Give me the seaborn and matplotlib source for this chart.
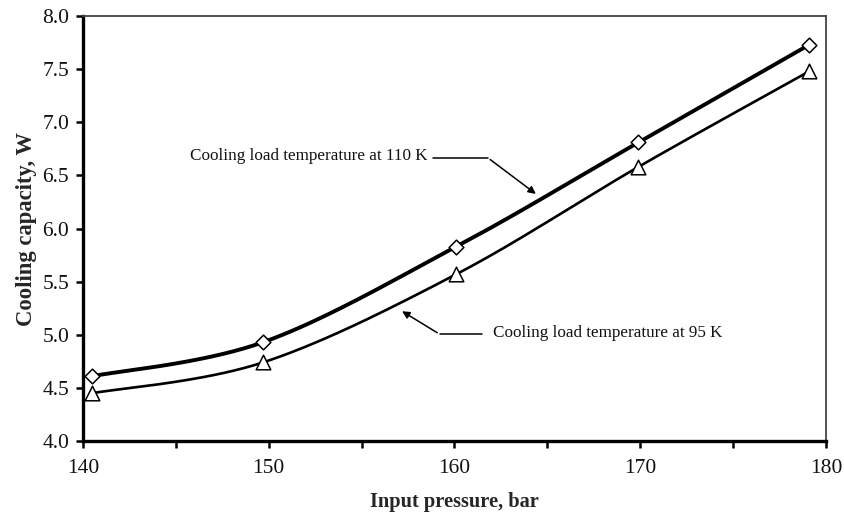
import numpy as np
import pandas as pd
import matplotlib
matplotlib.use("Agg")
import matplotlib.pyplot as plt
import seaborn as sns
from matplotlib.ticker import MultipleLocator

# Data
pressure_110 = [140.5, 149.7, 160.1, 169.9, 179.1]
capacity_110 = [4.61, 4.93, 5.83, 6.81, 7.73]
pressure_95 = [140.5, 149.7, 160.1, 169.9, 179.1]
capacity_95 = [4.45, 4.74, 5.57, 6.58, 7.48]
label_110 = "Cooling load temperature at 110 K"
label_95 = "Cooling load temperature at 95 K"
x_label = "Input pressure, bar"
y_label = "Cooling capacity, W"


def smooth(xs, ys, n=40):
    """Excel-like smoothed line: Catmull-Rom Bezier through the points."""
    P = np.column_stack([xs, ys]).astype(float)
    out = []
    for i in range(len(P) - 1):
        p0 = P[i - 1] if i > 0 else P[i]
        p1, p2 = P[i], P[i + 1]
        p3 = P[i + 2] if i + 2 < len(P) else P[i + 1]
        c1 = p1 + (p2 - p0) / 6.0
        c2 = p2 - (p3 - p1) / 6.0
        t = np.linspace(0, 1, n)[:, None]
        seg = ((1 - t) ** 3) * p1 + 3 * ((1 - t) ** 2) * t * c1 + 3 * (1 - t) * t ** 2 * c2 + t ** 3 * p2
        out.append(seg if i == 0 else seg[1:])
    s = np.vstack(out)
    return s[:, 0], s[:, 1]


sns.set_theme(style="white")
plt.rcParams["font.family"] = ["Liberation Serif", "DejaVu Serif"]

fig = plt.figure(figsize=(8.44, 5.15), dpi=100)
ax = fig.add_axes([0.0983, 0.1437, 0.8804, 0.8252])

for xs, ys, lw, marker, ms in [
    (pressure_110, capacity_110, 2.8, "D", 7.5),
    (pressure_95, capacity_95, 1.9, "^", 10.5),
]:
    sx, sy = smooth(xs, ys)
    curve = pd.DataFrame({"x": sx, "y": sy})
    sns.lineplot(data=curve, x="x", y="y", ax=ax, color="black", lw=lw, sort=False, estimator=None)
    pts = pd.DataFrame({"x": xs, "y": ys})
    sns.scatterplot(data=pts, x="x", y="y", ax=ax, marker=marker, s=ms ** 2,
                    facecolor="white", edgecolor="black", linewidth=1.1, zorder=5)

ax.set_xlim(140, 180)
ax.set_ylim(4.0, 8.0)
ax.xaxis.set_major_locator(MultipleLocator(10))
ax.xaxis.set_minor_locator(MultipleLocator(5))
ax.yaxis.set_major_locator(MultipleLocator(0.5))
ax.yaxis.set_major_formatter(matplotlib.ticker.FormatStrFormatter("%.1f"))
ax.tick_params(axis="both", which="both", direction="out", length=5, width=1.8,
               color="black", bottom=True, left=True, top=False, right=False)
ax.tick_params(axis="both", which="major", labelsize=15.5, pad=5)
ax.tick_params(axis="x", which="major", pad=8)
for lab in ax.get_xticklabels() + ax.get_yticklabels():
    lab.set_color("#111111")

ax.set_xlabel(x_label, fontsize=14.7, fontweight="bold", labelpad=10)
ax.set_ylabel(y_label, fontsize=16.3, fontweight="bold", labelpad=4)

for side in ["left", "bottom"]:
    ax.spines[side].set_color("black")
    ax.spines[side].set_linewidth(2.4)
for side in ["top", "right"]:
    ax.spines[side].set_color("#444444")
    ax.spines[side].set_linewidth(1.3)

# Annotations (text + leader line + arrow)
ax.text(145.75, 6.68, label_110, fontsize=12.3, va="center", ha="left", color="#111111")
ax.plot([158.85, 161.8], [6.665, 6.665], color="black", lw=1.1)
ax.annotate("", xy=(164.5, 6.31), xytext=(161.8, 6.665),
            arrowprops=dict(arrowstyle="-|>", color="black", lw=1.1, mutation_scale=11))

ax.text(162.05, 5.02, label_95, fontsize=12.3, va="center", ha="left", color="#111111")
ax.plot([159.2, 161.5], [5.005, 5.005], color="black", lw=1.1)
ax.annotate("", xy=(157.05, 5.235), xytext=(159.2, 5.005),
            arrowprops=dict(arrowstyle="-|>", color="black", lw=1.1, mutation_scale=11))

fig.savefig("out.png", dpi=100)
